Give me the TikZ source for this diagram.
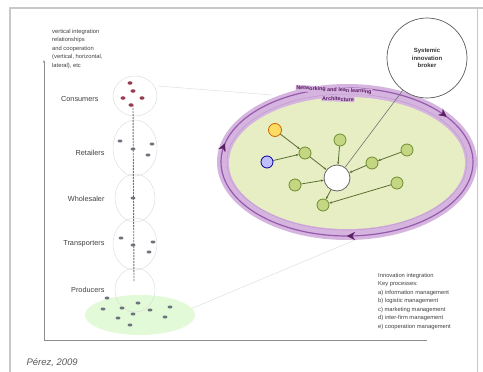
\documentclass[tikz,border=0pt]{standalone}
\usepackage{fontspec}
\setmainfont{Liberation Sans}
\usetikzlibrary{arrows.meta,decorations.markings,shapes.geometric}
\definecolor{ringlight}{RGB}{214,180,224}
\definecolor{ringdark}{RGB}{150,90,170}
\definecolor{arrowpurple}{RGB}{90,30,100}
\definecolor{fieldgreen}{RGB}{232,238,196}
\definecolor{nodegreen}{RGB}{196,214,130}
\definecolor{nodeedge}{RGB}{110,140,50}
\definecolor{edgegreen}{RGB}{90,110,50}
\definecolor{dotgray}{RGB}{110,115,125}
\definecolor{dotred}{RGB}{150,60,80}
\definecolor{framegray}{RGB}{200,200,200}
\tikzset{
  lbl/.style={font=\fontsize{7.3}{8}\selectfont, text=black!75},
  small/.style={font=\fontsize{5.8}{8.5}\selectfont, text=black!75, align=left, anchor=north west, inner sep=0pt},
  gnode/.style={circle, draw=nodeedge, fill=nodegreen, line width=0.8pt, minimum size=12pt, inner sep=0pt},
  net/.style={draw=edgegreen, line width=0.8pt, -{Stealth[length=3pt]}},
  dot/.style={ellipse, fill=dotgray, minimum width=5pt, minimum height=3pt, inner sep=0pt},
  rdot/.style={ellipse, fill=dotred, minimum width=5pt, minimum height=3.5pt, inner sep=0pt},
  bead/.style={draw=black!15, line width=0.4pt},
  faint/.style={draw=black!12, line width=0.5pt},
  ringlbl/.style={font=\fontsize{5.4}{6}\selectfont\bfseries, text=arrowpurple, fill=ringlight, inner sep=0.6pt},
}
\begin{document}
\begin{tikzpicture}[x=1pt,y=-1pt]
\useasboundingbox (0,0) rectangle (483,372);
\fill[white] (0,0) rectangle (483,372);
% outer frame
\draw[framegray, line width=1.2pt] (10,372) -- (10,8) -- (483,8);
\draw[framegray, line width=0.6pt] (477,8) -- (477,372);
% axes
\draw[black!45, line width=0.8pt, -{Stealth[length=3pt]}] (44,340) -- (44,60);
\draw[black!45, line width=0.8pt] (44,340) -- (427,340);
% top-left text
\node[small] (vtext) at (52,29) {vertical integration\\relationships\\and cooperation\\(vertical, horizontal,\\lateral), etc};
% faint perspective lines
\draw[faint] (158,86) -- (272,95);
\draw[faint] (188,310) -- (355,240);
% producers field
\fill[fieldgreen!80!green!40] (140,315) ellipse (55pt and 20pt);
% beads
\draw[bead] (135,96) ellipse (22pt and 20pt);
\draw[bead] (135,148) ellipse (22pt and 28pt);
\draw[bead] (135,198) ellipse (20pt and 24pt);
\draw[bead] (135,244) ellipse (22pt and 26pt);
\draw[bead] (135,290) ellipse (20pt and 22pt);
% chain
\coordinate (ctop) at (133,105);
\coordinate (cbot) at (134,282);
\draw[black!55, line width=0.9pt, dash pattern=on 2pt off 1pt] (ctop) -- (cbot);
% consumers
\node[rdot] (c1) at (130,83) {};
\node[rdot] (c2) at (133,91) {};
\node[rdot] (c3) at (123,98) {};
\node[rdot] (c4) at (142,98) {};
\node[rdot] (c5) at (131,105) {};
% retailers
\node[dot] (r1) at (120,141) {};
\node[dot] (r2) at (133,149) {};
\node[dot] (r3) at (152,144) {};
\node[dot] (r4) at (148,155) {};
% wholesaler
\node[dot] (w1) at (133,198) {};
% transporters
\node[dot] (t1) at (121,238) {};
\node[dot] (t2) at (133,245) {};
\node[dot] (t3) at (153,242) {};
\node[dot] (t4) at (149,252) {};
% producers
\node[dot] (p1) at (107,298) {};
\node[dot] (p2) at (103,309) {};
\node[dot] (p3) at (122,308) {};
\node[dot] (p4) at (138,303) {};
\node[dot] (p5) at (133,314) {};
\node[dot] (p6) at (118,318) {};
\node[dot] (p7) at (150,310) {};
\node[dot] (p8) at (170,307) {};
\node[dot] (p9) at (165,317) {};
\node[dot] (p10) at (130,325) {};
% level labels
\node[lbl, anchor=east] (lcons) at (102,99) {Consumers};
\node[lbl, anchor=east] (lret) at (108,153) {Retailers};
\node[lbl, anchor=east] (lwho) at (108,199) {Wholesaler};
\node[lbl, anchor=east] (ltra) at (108,244) {Transporters};
\node[lbl, anchor=east] (lpro) at (108,290) {Producers};
% ring and field
\fill[ringlight] (347,162) ellipse (130pt and 78pt);
\fill[fieldgreen] (347,163) ellipse (118pt and 66pt);
\draw[ringdark, line width=1.2pt] (347,162) ellipse (126pt and 74pt);
\draw[ringdark!60, line width=0.6pt] (347,162) ellipse (120pt and 68pt);
\path[decoration={markings,
   mark=at position 0.085 with {\arrowreversed[arrowpurple]{Stealth[length=8pt,width=8pt]}},
   mark=at position 0.47 with {\arrowreversed[arrowpurple]{Stealth[length=8pt,width=8pt]}},
   mark=at position 0.75 with {\arrowreversed[arrowpurple]{Stealth[length=8pt,width=8pt]}}},
   postaction=decorate] (347,162) ellipse (126pt and 74pt);
\node[ringlbl, rotate=-3] (netlbl) at (334,90) {Networking and lean learning};
\node[ringlbl, rotate=-2] (archlbl) at (338,99) {Architecture};
% network
\node[circle, draw=black!60, fill=white, line width=0.8pt, minimum size=26pt, inner sep=0pt] (hub) at (337,178) {};
\node[circle, draw=orange!80!black, fill=yellow!60!orange!60, line width=0.8pt, minimum size=13pt, inner sep=0pt] (ny) at (275,130) {};
\node[circle, draw=blue!60!black, fill=blue!25, line width=0.8pt, minimum size=12pt, inner sep=0pt] (nb) at (267,162) {};
\node[gnode] (na) at (305,153) {};
\node[gnode] (nbb) at (340,140) {};
\node[gnode] (nc) at (407,150) {};
\node[gnode] (nd) at (372,163) {};
\node[gnode] (ne) at (295,185) {};
\node[gnode] (nf) at (323,205) {};
\node[gnode] (ng) at (397,183) {};
\draw[net] (ny) -- (na);
\draw[net] (nb) -- (na);
\draw[net] (na) -- (hub);
\draw[net] (nbb) -- (hub);
\draw[net] (nc) -- (nd);
\draw[net] (nd) -- (hub);
\draw[net] (ne) -- (hub);
\draw[net] (hub) -- (nf);
\draw[net] (ng) -- (nf);
% broker
\node[circle, draw=black!65, fill=white, line width=0.7pt, minimum size=80pt, inner sep=0pt, align=center, font=\fontsize{6}{7.5}\selectfont\bfseries, text=black!80] (broker) at (427,58) {Systemic\\innovation\\broker};
\draw[black!55, line width=0.6pt] (broker) -- (hub);
% bottom-right text
\node[small] (keyp) at (378,273) {Innovation integration\\Key processes:\\a) information management\\b) logistic management\\c) marketing management\\d) inter-firm management\\e) cooperation management};
% caption
\node[font=\fontsize{9.5}{10}\selectfont\itshape, text=black!65, anchor=west] (cap) at (23,363) {Pérez, 2009};
\end{tikzpicture}
\end{document}
